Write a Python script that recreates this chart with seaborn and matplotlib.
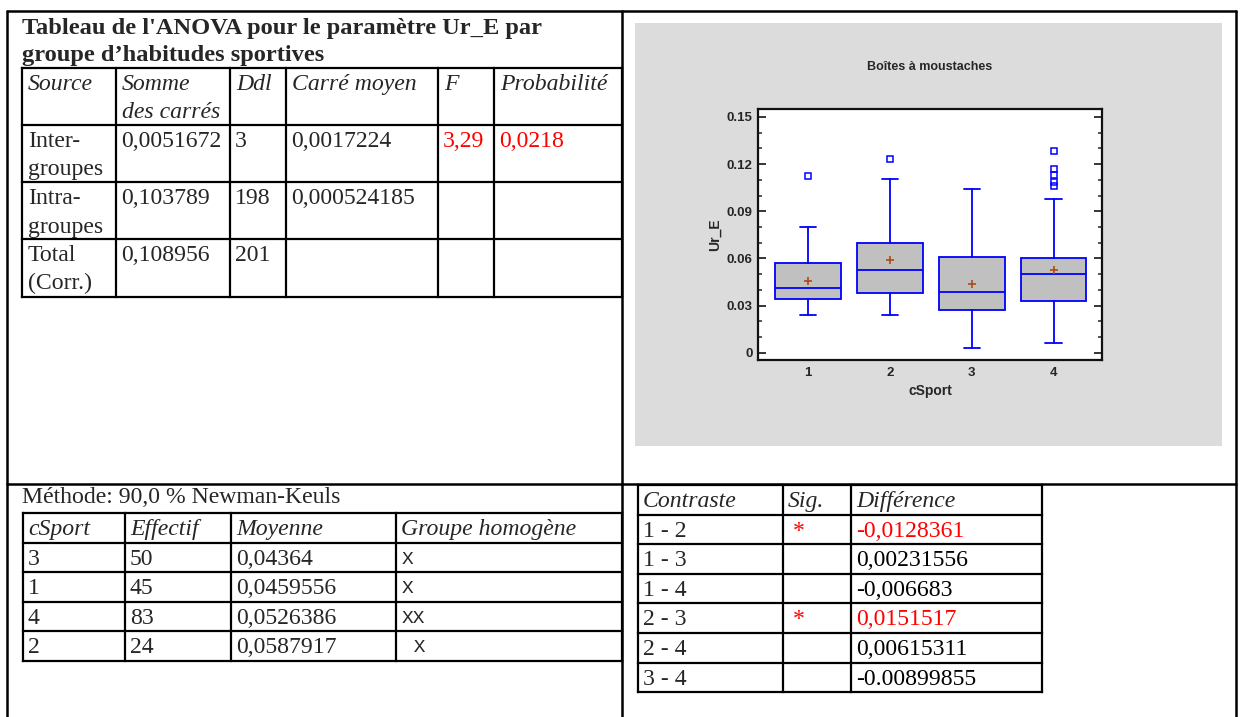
import numpy as np
import pandas as pd
import seaborn as sns
import matplotlib.pyplot as plt
from matplotlib.patches import Rectangle
from matplotlib.ticker import MultipleLocator

# --- Tableau de l'ANOVA ---
anova_title = ["Tableau de l'ANOVA pour le paramètre Ur_E par",
               "groupe d’habitudes sportives"]
anova_header = [["Source"], ["Somme", "des carrés"], ["Ddl"], ["Carré moyen"], ["F"], ["Probabilité"]]
anova_source = [["Inter-", "groupes"], ["Intra-", "groupes"], ["Total", "(Corr.)"]]
anova_ss = ["0,0051672", "0,103789", "0,108956"]
anova_ddl = ["3", "198", "201"]
anova_cm = ["0,0017224", "0,000524185", ""]
anova_f = ["3,29", "", ""]
anova_p = ["0,0218", "", ""]

# --- Newman-Keuls ---
nk_method = "Méthode: 90,0 % Newman-Keuls"
nk_header = ["cSport", "Effectif", "Moyenne", "Groupe homogène"]
nk_group = ["3", "1", "4", "2"]
nk_n = ["50", "45", "83", "24"]
nk_mean = ["0,04364", "0,0459556", "0,0526386", "0,0587917"]
nk_homog = ["X", "X", "XX", " X"]

# --- Contrastes ---
contrast_header = ["Contraste", "Sig.", "Différence"]
contrast = ["1 - 2", "1 - 3", "1 - 4", "2 - 3", "2 - 4", "3 - 4"]
contrast_sig = ["*", "", "", "*", "", ""]
contrast_diff = ["-0,0128361", "0,00231556", "-0,006683", "0,0151517", "0,00615311", "-0.00899855"]

# --- Boîtes à moustaches ---
csport = ["1", "2", "3", "4"]
whisker_low = [0.0239, 0.0239, 0.0030, 0.0064]
q1 = [0.0341, 0.0381, 0.0273, 0.0333]
median = [0.0415, 0.0530, 0.0388, 0.0502]
q3 = [0.0570, 0.0697, 0.0608, 0.0602]
whisker_high = [0.0799, 0.1108, 0.1042, 0.0975]
means = [0.0459556, 0.0587917, 0.04364, 0.0526386]
outliers = [[0.1123], [0.1231], [], [0.1284, 0.1170, 0.1132, 0.1088, 0.1063]]
ytick_values = [0, 0.03, 0.06, 0.09, 0.12, 0.15]
ytick_labels = ["0", "0.03", "0.06", "0.09", "0.12", "0.15"]

sns.set_style("white")
plt.rcParams['font.family'] = ['Liberation Serif', 'DejaVu Serif']

W, H = 1242, 717
fig = plt.figure(figsize=(W / 100, H / 100), dpi=100)
bg = fig.add_axes([0, 0, 1, 1])
bg.set_xlim(0, W)
bg.set_ylim(H, 0)
bg.axis('off')

FS = 17.1
LW = 1.6


def grid(xs, ys, lw=LW):
    for x in xs:
        bg.plot([x, x], [ys[0], ys[-1]], color='black', lw=lw, solid_capstyle='projecting')
    for y in ys:
        bg.plot([xs[0], xs[-1]], [y, y], color='black', lw=lw, solid_capstyle='projecting')


def txt(x, y, s, **kw):
    kw.setdefault('fontsize', FS)
    bg.text(x, y, s, ha=kw.pop('ha', 'left'), va='baseline', **kw)


# cadre de la page
bg.plot([7, 1236], [11, 11], color='black', lw=1.8)
bg.plot([7, 1236], [484, 484], color='black', lw=1.8)
for x in [7, 622, 1236]:
    bg.plot([x, x], [11, H], color='black', lw=1.8)

# ANOVA
txt(22, 34, anova_title[0], fontweight='bold', fontsize=17.6)
txt(22, 61, anova_title[1], fontweight='bold', fontsize=17.6)
a_cols = [22, 116, 230, 286, 438, 494, 622]
a_rows = [68, 125, 182, 239, 297]
grid(a_cols, a_rows)
for j, lines in enumerate(anova_header):
    for k, s in enumerate(lines):
        txt(a_cols[j] + 6, a_rows[0] + 22 + 28.5 * k, s, style='italic')
for i in range(len(anova_source)):
    top = a_rows[i + 1]
    for k, s in enumerate(anova_source[i]):
        txt(a_cols[0] + 6, top + 22 + 28.5 * k, s)
    txt(a_cols[1] + 5, top + 22, anova_ss[i])
    txt(a_cols[2] + 5, top + 22, anova_ddl[i])
    txt(a_cols[3] + 5, top + 22, anova_cm[i])
    txt(a_cols[4] + 5, top + 22, anova_f[i], color='red')
    txt(a_cols[5] + 5, top + 22, anova_p[i], color='red')

# Newman-Keuls
txt(22, 503, nk_method)
n_cols = [23, 125, 231, 396, 622]
n_rows = [513, 543, 572, 602, 631, 661]
grid(n_cols, n_rows)
for j, s in enumerate(nk_header):
    txt(n_cols[j] + 5, n_rows[0] + 22, s, style='italic')
for i in range(len(nk_group)):
    top = n_rows[i + 1]
    txt(n_cols[0] + 5, top + 22, nk_group[i])
    txt(n_cols[1] + 5, top + 22, nk_n[i])
    txt(n_cols[2] + 5, top + 22, nk_mean[i])
    txt(n_cols[3] + 6, top + 21, nk_homog[i], family='Liberation Mono', fontsize=14)

# Contrastes
c_cols = [638, 783, 851, 1042]
c_rows = [485, 515, 544, 574, 603, 633, 663, 692]
grid(c_cols, c_rows)
for j, s in enumerate(contrast_header):
    txt(c_cols[j] + 5, c_rows[0] + 22, s, style='italic')
for i in range(len(contrast)):
    top = c_rows[i + 1]
    col = 'red' if contrast_sig[i] else 'black'
    txt(c_cols[0] + 5, top + 22, contrast[i])
    txt(799, top + 22, contrast_sig[i], color='red', ha='center')
    txt(c_cols[2] + 5, top + 22, contrast_diff[i], color=col)

# panneau gris du graphique
bg.add_patch(Rectangle((635, 23), 587, 423, facecolor='#dcdcdc', edgecolor='none', zorder=0))

# boîtes à moustaches
ax = fig.add_axes([758 / W, 1 - 360 / H, 344 / W, 251 / H])
ax.set_facecolor('white')
blue = '#0000ff'
stats = [dict(label=c, whislo=whisker_low[i], q1=q1[i], med=median[i], q3=q3[i],
              whishi=whisker_high[i], fliers=outliers[i]) for i, c in enumerate(csport)]
ax.bxp(stats, positions=range(len(csport)), widths=0.8, capwidths=0.2, patch_artist=True,
       boxprops=dict(facecolor='#c0c0c0', edgecolor=blue, lw=1.3),
       medianprops=dict(color=blue, lw=1.3),
       whiskerprops=dict(color=blue, lw=1.3),
       capprops=dict(color=blue, lw=1.3),
       flierprops=dict(marker='s', markerfacecolor='none', markeredgecolor=blue,
                       markersize=4, markeredgewidth=1.1))
df_means = pd.DataFrame({'pos': np.arange(len(csport)), 'mean': means})
sns.scatterplot(data=df_means, x='pos', y='mean', marker='+', color='#b04a10',
                s=30, linewidth=1.2, ax=ax, zorder=5)

ax.set_xlim(-0.61, 3.59)
ax.set_ylim(-0.0045, 0.155)
sans = ['Liberation Sans Narrow', 'Liberation Sans', 'DejaVu Sans']
ax.set_xticks(range(len(csport)))
ax.set_xticklabels(csport, family=sans, fontweight='bold', fontsize=9.5)
ax.set_yticks(ytick_values)
ax.set_yticklabels(ytick_labels, family=sans, fontweight='bold', fontsize=9.5)
ax.yaxis.set_minor_locator(MultipleLocator(0.01))
ax.tick_params(axis='x', length=0, pad=5)
ax.tick_params(axis='y', which='major', direction='in', length=6, width=1.3,
               left=True, right=True, pad=4)
ax.tick_params(axis='y', which='minor', direction='in', length=3, width=1.1,
               left=True, right=True)
for sp in ax.spines.values():
    sp.set_color('#111111')
    sp.set_linewidth(1.6)
ax.set_xlabel('cSport', family=sans, fontweight='bold', fontsize=10, labelpad=4)
ax.set_ylabel('Ur_E', family=sans, fontweight='bold', fontsize=10, labelpad=3)
ax.text(0.5, (360 - 67) / 251, 'Boîtes à moustaches', transform=ax.transAxes,
        ha='center', va='center', family=sans, fontweight='bold', fontsize=9)

fig.savefig('out.png', dpi=100)
